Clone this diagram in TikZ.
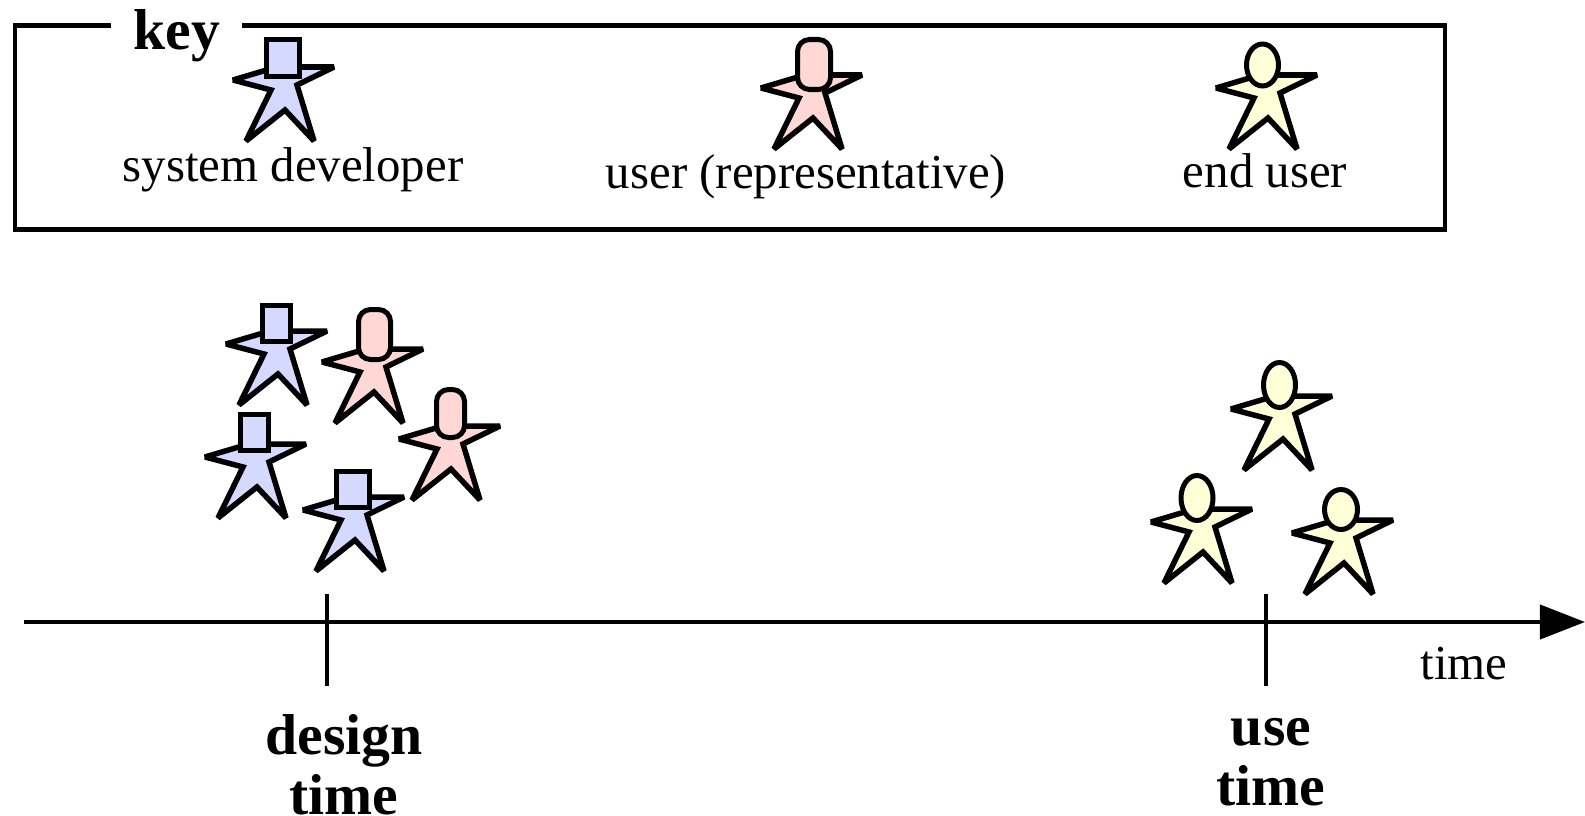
\documentclass[tikz,border=0pt]{standalone}
\usepackage{fontspec}
\setmainfont{Liberation Serif}
\usetikzlibrary{arrows.meta, shapes.geometric}
\definecolor{devblue}{HTML}{D5D8FF}
\definecolor{reppink}{HTML}{FFD8D5}
\definecolor{endyellow}{HTML}{FFFFD8}
\tikzset{
  body/.style={draw, line width=0.055cm, miter limit=2},
  head/.style={draw, line width=0.05cm, inner sep=0pt},
  dev head/.style={head, fill=devblue},
  rep head/.style={head, fill=reppink, rounded corners=0.12cm},
  end head/.style={head, fill=endyellow, ellipse},
  label text/.style={font=\fontsize{13.9}{17}\selectfont, inner sep=0pt},
  bold text/.style={font=\fontsize{16.4}{17.2}\selectfont\bfseries, align=center, inner sep=0pt},
  line/.style={line width=0.04cm}
}
\newcommand{\actorbody}[3]{
  \draw[body, fill=#3, shift={(#1,#2)}] (-52,-30) -- (-15,-41) -- (10,-43) -- (49,-43)
    -- (12,-25) -- (29,31) -- (0,0) -- (-39,31) -- (-14,-20) -- cycle;
}
\begin{document}
\begin{tikzpicture}[x=0.01cm, y=-0.01cm]
\useasboundingbox (0,0) rectangle (1585,815);
\node[draw, line width=0.045cm, minimum width=14.29cm, minimum height=2.04cm, inner sep=0pt] (keybox) at (730,127.5) {};
\node[fill=white, minimum width=1.31cm, minimum height=0.4cm, inner sep=0pt] (keygap) at (176.5,26) {};
\node[bold text] (key) at (177,36) {key};
% key and design time
\foreach \x/\y/\hx/\hy/\hw/\hh/\nm in {285/110/283/58/33/37/devkey, 278/374/276.5/323.5/28/36/devone,
    257/487/254.5/432.5/28/36/devtwo, 355/540/353/489.5/33/36/devthree}{
  \actorbody{\x}{\y}{devblue}
  \node[dev head, minimum width=\hw*0.01cm, minimum height=\hh*0.01cm] (\nm) at (\hx,\hy) {};
}
\foreach \x/\y/\hx/\hy/\hw/\hh/\nm in {813/118/814/64.5/33/50/repkey, 374/392/374.5/334.5/32/50/repone,
    451/469/450.5/413.5/28/48/reptwo}{
  \actorbody{\x}{\y}{reppink}
  \node[rep head, minimum width=\hw*0.01cm, minimum height=\hh*0.01cm] (\nm) at (\hx,\hy) {};
}
% key and use time
\foreach \x/\y/\hx/\hy/\hw/\hh/\nm in {1268/118/1262.5/65/32/42/endkey, 1283/439/1279.5/385/32/45/endone,
    1203/552/1197/498/32/45/endtwo, 1344/563/1341/509.5/33/40/endthree}{
  \actorbody{\x}{\y}{endyellow}
  \node[end head, minimum width=\hw*0.01cm, minimum height=\hh*0.01cm] (\nm) at (\hx,\hy) {};
}
\node[label text] (devlabel) at (293,170) {system developer};
\node[label text] (replabel) at (806,177) {user (representative)};
\node[label text] (endlabel) at (1265,171) {end user};
% time line
\coordinate (linestart) at (24,622);
\coordinate (lineend) at (1585,622);
\coordinate (designtop) at (327,594);
\coordinate (designbot) at (327,686);
\coordinate (usetop) at (1266,594);
\coordinate (usebot) at (1266,686);
\draw[line, -{Triangle[length=0.45cm, width=0.34cm]}] (linestart) -- (lineend);
\draw[line] (designtop) -- (designbot);
\draw[line] (usetop) -- (usebot);
\node[label text] (timelabel) at (1464,664) {time};
\node[bold text] (designtime) at (344,765) {design\\time};
\node[bold text] (usetime) at (1271,762) {use\\time};
\end{tikzpicture}
\end{document}
